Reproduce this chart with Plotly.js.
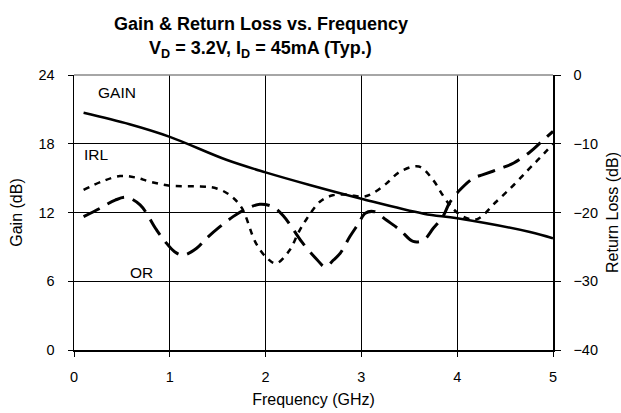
<!DOCTYPE html>
<html><head><meta charset="utf-8">
<script src="https://cdn.plot.ly/plotly-3.0.1.min.js"></script>
<style>body{margin:0;background:#fff}#c{width:621px;height:413px}</style>
</head><body><div id="c"></div>
<script>
const gainFreq = [0.1, 0.58, 1.0, 1.59, 2.0, 2.46, 3.0, 3.65, 4.0, 4.76, 5.0];
const gainDb   = [20.7, 19.7, 18.6, 16.6, 15.5, 14.4, 13.2, 11.9, 11.5, 10.3, 9.75];

const irlFreq = [0.1, 0.29, 0.48, 0.64, 0.79, 1.0, 1.32, 1.49, 1.63, 1.75, 1.9, 2.02, 2.11, 2.25, 2.34, 2.43, 2.57, 2.7, 2.85, 3.02, 3.12, 3.26, 3.4, 3.6, 3.75, 3.85, 3.94, 4.05, 4.2, 4.41, 4.59, 4.74, 4.86, 5.0];
const irlDb   = [-16.7, -15.5, -14.7, -14.9, -15.5, -16.1, -16.2, -16.5, -17.5, -19.3, -24.5, -26.7, -27.4, -25.5, -23.0, -20.9, -18.4, -17.5, -17.4, -17.7, -17.2, -15.8, -14.1, -13.3, -15.3, -17.5, -19.2, -20.5, -21.0, -18.4, -16.0, -13.8, -12.1, -10.0];

const orFreq = [0.1, 0.27, 0.43, 0.55, 0.69, 0.86, 0.95, 1.05, 1.14, 1.28, 1.38, 1.52, 1.66, 1.78, 1.94, 2.08, 2.18, 2.29, 2.39, 2.54, 2.62, 2.71, 2.78, 2.88, 2.97, 3.04, 3.14, 3.26, 3.4, 3.54, 3.65, 3.75, 3.85, 3.92, 4.03, 4.17, 4.27, 4.45, 4.59, 4.76, 4.88, 5.0];
const orDb   = [-20.6, -19.4, -18.2, -17.8, -18.9, -22.5, -24.2, -25.7, -26.2, -25.2, -23.8, -22.1, -20.6, -19.6, -18.8, -19.2, -20.4, -22.5, -24.5, -26.9, -27.9, -26.9, -25.9, -23.5, -21.6, -20.1, -19.9, -21.1, -22.5, -24.2, -24.0, -22.3, -20.6, -18.6, -16.7, -15.0, -14.5, -13.6, -12.8, -11.2, -9.7, -8.2];

const xTicks = [0, 1, 2, 3, 4, 5];
const yTicks = [0, 6, 12, 18, 24];
const y2Ticks = [-40, -30, -20, -10, 0];

const FAM = 'Liberation Sans, Arial, sans-serif';
const tickFont = {family: FAM, size: 14.5, color: '#000'};
const titleFont = {family: FAM, size: 16, color: '#000'};
const labelFont = {family: FAM, size: 15.5, color: '#000'};
const headFont = {family: FAM, size: 18, color: '#000'};

const traces = [
  {x: gainFreq, y: gainDb, mode: 'lines', line: {color: '#000', width: 2.5, shape: 'spline'}, yaxis: 'y', hoverinfo: 'skip'},
  {x: irlFreq, y: irlDb, mode: 'lines', line: {color: '#000', width: 2.5, dash: '6px,6px', shape: 'spline'}, yaxis: 'y2', hoverinfo: 'skip'},
  {x: orFreq, y: orDb, mode: 'lines', line: {color: '#000', width: 3, dash: '18px,9px', shape: 'spline'}, yaxis: 'y2', hoverinfo: 'skip'}
];

const layout = {
  width: 621, height: 413,
  margin: {l: 74, r: 68, t: 75, b: 63},
  paper_bgcolor: '#fff', plot_bgcolor: '#fff',
  showlegend: false,
  font: tickFont,
  xaxis: {
    range: [0, 5], tickvals: xTicks, ticks: 'outside', ticklen: 5, tickcolor: '#000',
    ticklabelstandoff: 8,
    showgrid: true, gridcolor: '#000', gridwidth: 1,
    showline: true, linecolor: '#000', linewidth: 1.5, zeroline: false,
    title: {text: 'Frequency (GHz)', font: titleFont, standoff: 10},
    tickfont: tickFont
  },
  yaxis: {
    range: [0, 24], tickvals: yTicks, ticks: 'outside', ticklen: 5, tickcolor: '#000',
    ticklabelstandoff: 10,
    showgrid: true, gridcolor: '#000', gridwidth: 1,
    showline: true, linecolor: '#000', linewidth: 1.5, zeroline: false,
    title: {text: 'Gain (dB)', font: titleFont, standoff: 12},
    tickfont: tickFont
  },
  yaxis2: {
    range: [-40, 0], tickvals: y2Ticks, ticks: 'outside', ticklen: 6, tickcolor: '#000',
    ticklabelstandoff: 10,
    overlaying: 'y', side: 'right', showgrid: false,
    showline: true, linecolor: '#000', linewidth: 1.5, zeroline: false,
    title: {text: 'Return Loss (dB)', font: titleFont, standoff: 10},
    tickfont: tickFont
  },
  shapes: [
    {type: 'line', xref: 'paper', yref: 'paper', x0: 0, x1: 1, y0: 1, y1: 1, line: {color: '#888', width: 1.5}}
  ],
  annotations: [
    {x: 0.39, y: 1.1855, xref: 'paper', yref: 'paper', text: '<b>Gain & Return Loss vs. Frequency</b>', showarrow: false, font: headFont, xanchor: 'center', yanchor: 'middle'},
    {x: 0.39, y: 1.092, xref: 'paper', yref: 'paper', text: '<b>V<sub>D</sub> = 3.2V, I<sub>D</sub> = 45mA (Typ.)</b>', showarrow: false, font: headFont, xanchor: 'center', yanchor: 'middle'},
    {x: 0.45, y: 22.5, xref: 'x', yref: 'y', text: 'GAIN', showarrow: false, font: labelFont},
    {x: 0.24, y: 17.1, xref: 'x', yref: 'y', text: 'IRL', showarrow: false, font: labelFont},
    {x: 0.7, y: 6.8, xref: 'x', yref: 'y', text: 'OR', showarrow: false, font: labelFont}
  ]
};

Plotly.newPlot('c', traces, layout, {displayModeBar: false, staticPlot: true});
</script>
</body></html>
